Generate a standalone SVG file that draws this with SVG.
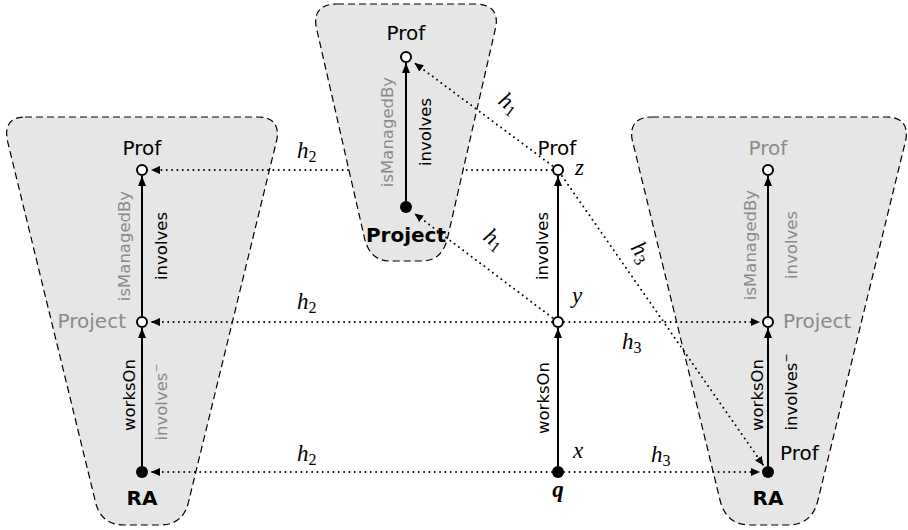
<svg xmlns="http://www.w3.org/2000/svg" width="908" height="530" viewBox="0 0 908 530">
<style>
.panel{fill:#e6e6e6;stroke:#000;stroke-width:1.2;stroke-dasharray:7 4}
.edge{stroke:#000;stroke-width:2;fill:none;marker-end:url(#ah)}
.dot{stroke:#000;stroke-width:2;fill:none;stroke-dasharray:0 5.33;stroke-linecap:round;marker-end:url(#dh)}
.open{fill:#fff;stroke:#000;stroke-width:2}
.full{fill:#000}
.lbl{font-family:"DejaVu Sans",sans-serif;font-size:20px;fill:#000}
.bold{font-weight:bold}
.elbl{font-family:"DejaVu Sans",sans-serif;font-size:16.5px;fill:#000;text-anchor:middle}
.math{font-family:"Liberation Serif",serif;font-style:italic;font-size:23px;fill:#000}
.sub{font-size:16px;font-style:normal}
.mid{text-anchor:middle}
.gray{fill:#8a8a8a}
</style>
<defs>
<marker id="ah" markerUnits="userSpaceOnUse" markerWidth="10" markerHeight="8" refX="10" refY="4" orient="auto"><path d="M0,0 L10,4 L0,8 z" fill="#000"/></marker>
<marker id="dh" markerUnits="userSpaceOnUse" markerWidth="9" markerHeight="8" refX="9" refY="4" orient="auto"><path d="M0,0 L9,4 L0,8 z" fill="#000"/></marker>
</defs>

<g id="panels">
<path class="panel" d="M25,117 L258,117 Q280,117 277,139 L189,500 Q184,525 160,525 L124,525 Q100,525 95,500 L7,139 Q4,117 25,117 Z"/>
<path class="panel" d="M337,4 L475,4 Q499,4 496,26 L448,236 Q443,261 422,261 L390,261 Q369,261 364,236 L316,26 Q313,4 337,4 Z"/>
<path class="panel" d="M652,117 L886,117 Q909,117 906,139 L818,500 Q812,525 788,525 L750,525 Q726,525 720,500 L632,139 Q629,117 652,117 Z"/>
</g>

<g id="connectors">
<line class="edge" x1="142" y1="466" x2="142" y2="328"/>
<line class="edge" x1="142" y1="316" x2="142" y2="176"/>
<line class="edge" x1="406" y1="201" x2="406" y2="63"/>
<line class="edge" x1="558" y1="466" x2="558" y2="328"/>
<line class="edge" x1="558" y1="316" x2="558" y2="176"/>
<line class="edge" x1="768" y1="466" x2="768" y2="328"/>
<line class="edge" x1="768" y1="316" x2="768" y2="176"/>

<path class="dot" d="M552,170 H465 M348,170 H151"/>
<path class="dot" d="M552,322 H151"/>
<path class="dot" d="M552,472 H151"/>
<path class="dot" d="M552.4,165.8 L414.5,63"/>
<path class="dot" d="M552.4,317.8 L414.5,213.5"/>
<path class="dot" d="M564,322 H760"/>
<path class="dot" d="M562,176 L763.5,465.5"/>
<path class="dot" d="M564,472 H760"/>

<text class="elbl" transform="translate(135,395) rotate(-90)">worksOn</text>
<text class="elbl gray" transform="translate(167,402) rotate(-90)">involves<tspan dy="-7" font-size="11">−</tspan></text>
<text class="elbl gray" transform="translate(130,246) rotate(-90)">isManagedBy</text>
<text class="elbl" transform="translate(167,246) rotate(-90)">involves</text>
<text class="elbl gray" transform="translate(393,132) rotate(-90)">isManagedBy</text>
<text class="elbl" transform="translate(431,132) rotate(-90)">involves</text>
<text class="elbl" transform="translate(549,398) rotate(-90)">worksOn</text>
<text class="elbl" transform="translate(548,246) rotate(-90)">involves</text>
<text class="elbl" transform="translate(763,395) rotate(-90)">worksOn</text>
<text class="elbl" transform="translate(797,392) rotate(-90)">involves<tspan dy="-7" font-size="11">−</tspan></text>
<text class="elbl gray" transform="translate(756,245) rotate(-90)">isManagedBy</text>
<text class="elbl gray" transform="translate(797,245) rotate(-90)">involves</text>

<text class="math" x="297" y="158">h<tspan class="sub" dy="4">2</tspan></text>
<text class="math" x="297" y="309">h<tspan class="sub" dy="4">2</tspan></text>
<text class="math" x="297" y="461">h<tspan class="sub" dy="4">2</tspan></text>
<text class="math" x="622" y="349">h<tspan class="sub" dy="4">3</tspan></text>
<text class="math" x="651" y="462">h<tspan class="sub" dy="4">3</tspan></text>
<text class="math" transform="translate(630,248) rotate(56)">h<tspan class="sub" dy="4">3</tspan></text>
<text class="math" transform="translate(497,103) rotate(37)">h<tspan class="sub" dy="4">1</tspan></text>
<text class="math" transform="translate(482,239) rotate(37)">h<tspan class="sub" dy="4">1</tspan></text>
</g>

<g id="n-left-prof"><circle class="open" cx="142" cy="170" r="5"/><text class="lbl mid" x="142" y="155">Prof</text></g>
<g id="n-left-project"><circle class="open" cx="142" cy="322" r="5"/><text class="lbl gray" x="126" y="328" text-anchor="end">Project</text></g>
<g id="n-left-ra"><circle class="full" cx="142" cy="472" r="6"/><text class="lbl bold mid" x="142" y="505">RA</text></g>

<g id="n-mid-prof"><circle class="open" cx="406" cy="57" r="5"/><text class="lbl mid" x="406" y="40">Prof</text></g>
<g id="n-mid-project"><circle class="full" cx="406" cy="207" r="6"/><text class="lbl bold mid" x="406" y="242">Project</text></g>

<g id="n-z"><circle class="open" cx="558" cy="170" r="5"/><text class="lbl mid" x="557" y="155">Prof</text><text class="math" x="575" y="175">z</text></g>
<g id="n-y"><circle class="open" cx="558" cy="322" r="5"/><text class="math" x="572" y="303">y</text></g>
<g id="n-x"><circle class="full" cx="558" cy="472" r="6"/><text class="math" x="573" y="458">x</text><text class="math bold mid" x="558" y="497">q</text></g>

<g id="n-right-prof"><circle class="open" cx="768" cy="170" r="5"/><text class="lbl gray mid" x="768" y="155">Prof</text></g>
<g id="n-right-project"><circle class="open" cx="768" cy="322" r="5"/><text class="lbl gray" x="783" y="328">Project</text></g>
<g id="n-right-ra"><circle class="full" cx="768" cy="472" r="6"/><text class="lbl" x="780" y="460">Prof</text><text class="lbl bold mid" x="768" y="505">RA</text></g>
</svg>
